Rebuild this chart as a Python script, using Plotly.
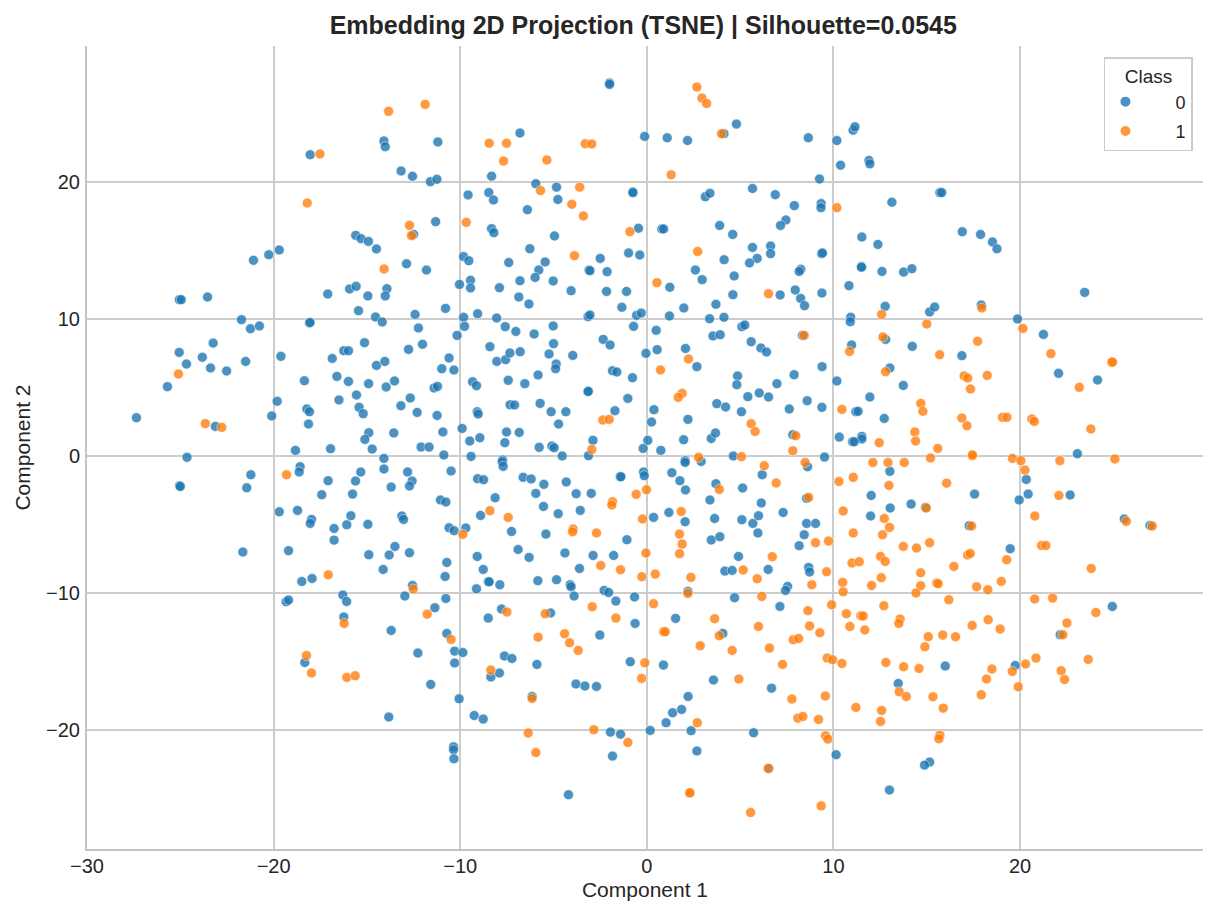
import plotly.graph_objects as go

# Class 0 points (Component 1, Component 2)
class0_points = [
(-2.0,27.2),(-2.0,27.1),(4.8,24.2),(-6.8,23.55),(11.05,23.75),(11.15,24.0),(4.13,23.5),
(-0.12,23.3),(1.09,23.2),(2.18,23.0),(8.65,23.2),(10.18,23.0),
(-14.09,22.97),(-14.02,22.55),(-11.2,22.9),(-18.04,21.97),(-13.17,20.78),(-12.56,20.39),(-11.6,20.0),
(-11.25,20.17),(-9.58,19.03),(-11.32,17.08),(-12.5,16.15),(-15.6,16.08),(-15.31,15.84),(-14.92,15.64),
(-14.49,15.09),(-19.7,15.01),(-20.26,14.67),(-21.08,14.26),(-12.88,14.01),(-11.81,13.55),(-9.82,14.53),(-9.54,14.23),
(-8.32,20.4),
(10.38,21.2),(9.25,20.2),(11.9,21.55),(11.95,21.3),(15.7,19.2),(15.8,19.2),(13.13,18.5),(9.34,18.4),(9.33,18.1),
(16.9,16.35),(17.88,16.15),(18.52,15.6),(18.76,15.1),(11.52,15.96),(12.38,15.42),(9.36,14.74),(9.41,14.8),
(11.5,13.8),(11.5,13.75),(12.6,13.45),(13.76,13.4),(14.2,13.65),
(5.66,19.5),(6.88,19.05),(3.13,18.9),(3.38,19.15),(7.9,18.25),(7.45,17.2),(7.16,16.8),(3.9,16.8),(4.6,16.15),
(5.66,15.2),(6.63,15.3),(6.63,14.75),(5.91,14.4),(5.5,14.07),(4.14,14.3),(2.6,13.55),(8.25,13.6),(8.16,13.45),
(0.8,16.55),(0.9,16.55),(-0.45,16.6),(-0.75,19.25),(-0.75,19.2),(-4.84,19.6),(-4.77,18.7),(-5.95,19.85),
(-6.4,17.95),(-8.47,19.2),(-8.22,18.66),(-8.32,16.57),(-8.2,16.28),(-4.95,16.04),(-6.27,15.1),(-7.4,14.1),
(-5.45,14.14),(-2.5,14.4),(-0.98,14.8),(-0.38,14.65),(-5.79,13.55),(-3.1,13.55),(-3.05,13.5),(-2.13,13.43),
(-10.04,12.5),(-9.45,12.8),(-9.45,12.24),(-25.05,11.39),(-24.95,11.39),(-23.54,11.58),(-17.1,11.8),
(-15.93,12.17),(-15.58,12.36),(-14.95,11.66),(-13.93,12.19),(-14.02,11.66),(-15.45,10.58),(-14.54,10.12),
(-14.18,9.76),(-12.42,10.31),(-10.79,10.75),(-9.82,10.1),(-9.77,9.44),(-9.07,10.36),(-12.24,9.32),
(-10.17,8.78),(-8.41,7.96),(-12.02,8.13),(-12.77,7.76),(-15.13,8.25),(-16.24,7.66),(-15.99,7.66),
(-21.72,9.93),(-21.24,9.27),(-20.76,9.47),(-18.08,9.69),(-18.05,9.72),(-23.24,8.22),(-25.06,7.54),
(-23.82,7.18),(-24.67,6.69),(-23.38,6.4),(-22.52,6.18),(-21.5,6.88),(-25.69,5.04),(-19.61,7.25),
(-16.86,7.1),(-14.49,6.59),(-14.04,6.88),(-10.6,7.13),(-10.99,6.35),(-10.34,6.25),(-9.34,5.4),(-9.13,5.11),
(-16.61,5.79),(-15.99,5.42),(-14.91,5.26),(-13.52,5.45),(-13.97,5.01),(-18.35,5.47),(-11.4,4.94),
(-11.22,5.06),(-15.56,4.43),(-16.5,4.07),(-12.68,4.21),(-13.18,3.65),(-15.42,3.53),(-15.2,3.07),
(-12.31,3.16),(-11.24,2.94),(-19.81,3.97),(-18.22,3.41),(-18.08,3.21),(-20.1,2.9),(-27.35,2.77),
(-23.12,2.14),(-18.13,2.31),(-9.09,3.21),(-9.04,3.04),(-9.9,1.99),(-10.93,1.73),(-13.56,1.66),(-14.9,1.68),
(-15.11,1.19),(-14.72,0.49),(-9.49,1.07),(-8.95,1.31),(-12.1,0.63),(-11.67,0.63),(-16.95,0.51),
(-18.83,0.39),(-24.64,-0.12),(-14.09,-0.2),(-10.88,0.05),(-9.42,-0.05),
(-5.99,13.01),(-6.8,12.77),(-5.02,12.75),(-7.9,12.26),(-6.86,11.58),(-6.32,11.07),(-4.06,12.04),
(-2.16,11.99),(-1.09,11.99),(1.23,12.29),(2.96,12.85),(4.68,13.12),(7.14,11.73),(7.95,12.09),(8.24,11.48),
(8.45,10.95),(9.38,11.87),(10.83,12.41),(4.61,11.75),(3.7,11.05),(1.98,10.78),(-1.34,10.83),(-0.55,10.24),
(-0.3,10.41),(1.21,10.2),(3.36,10.0),(4.13,10.1),(5.09,9.42),(5.25,9.54),(10.92,10.1),(10.9,9.78),
(-8.05,10.05),(-3.15,10.15),(-3.05,10.27),(-7.59,9.42),(-7.02,9.07),(-6.04,8.88),(-5.02,9.47),(-0.71,9.44),
(0.5,9.15),(3.54,8.74),(3.93,8.83),(8.34,8.78),(5.59,8.32),(6.11,7.86),(6.41,7.57),(10.97,8.08),
(-8.04,6.88),(-7.57,7.01),(-7.34,7.5),(-6.79,7.59),(-5.0,8.18),(-5.24,7.42),(-3.97,7.32),(-4.86,6.69),
(-4.89,6.35),(-2.34,8.49),(-1.97,8.08),(-0.05,7.47),(0.55,7.74),(2.07,7.83),(2.68,6.5),(-1.84,6.2),
(-1.61,6.11),(-0.77,5.69),(-7.43,5.5),(-6.54,5.26),(-5.83,5.89),(4.86,5.82),(4.82,5.18),(6.97,5.26),
(7.89,5.91),(9.39,6.5),(10.18,5.45),(-3.16,4.67),(-3.14,4.7),(6.02,4.58),(5.41,4.31),(6.52,4.28),
(-1.02,4.18),(-7.33,3.72),(-7.09,3.7),(-5.72,3.82),(-5.13,3.21),(-4.34,3.21),(-1.71,3.28),(0.38,3.36),
(3.75,3.8),(4.22,3.55),(5.07,3.21),(8.59,4.01),(7.63,3.41),(9.38,3.53),(11.2,3.21),(-4.73,2.31),
(0.25,2.46),(2.2,2.65),(-7.52,1.73),(-6.84,1.7),(-2.89,1.12),(0.05,1.12),(1.97,1.17),(3.45,1.26),
(3.68,1.66),(7.82,1.53),(10.31,1.36),(11.02,1.02),(-7.61,0.95),(-5.77,0.61),(-5.09,0.71),(-4.97,0.58),
(-0.2,0.53),(0.75,0.39),(-4.54,-0.02),(-3.13,0.0),(-7.73,-0.31),(4.63,-0.02),(9.52,-0.1),(2.05,-0.36),
(23.46,11.92),(12.77,10.9),(15.15,10.49),(15.42,10.85),(17.92,11.0),(19.86,9.98),(21.25,8.85),
(22.06,6.01),(24.15,5.52),(16.88,7.3),(12.79,8.49),(14.22,7.98),(13.02,6.4),(13.74,5.13),(11.95,4.28),
(11.32,3.24),(12.72,2.72),(11.52,1.41),(11.52,1.22),(11.11,1.02),(23.07,0.15),
(-21.22,-1.39),(-21.44,-2.34),(-25.04,-2.19),(-25.0,-2.25),(-18.58,-0.8),(-18.63,-1.19),(-17.08,-1.82),
(-17.42,-2.85),(-15.33,-1.19),(-15.61,-1.85),(-15.77,-2.8),(-14.09,-0.97),(-13.7,-2.29),(-12.82,-1.19),
(-12.58,-1.85),(-12.72,-2.21),(-10.49,-1.12),(-9.07,-1.68),(-8.75,-1.75),(-11.06,-3.23),(-10.77,-3.38),
(-19.7,-4.09),(-18.72,-3.99),(-17.97,-4.65),(-18.04,-4.94),(-15.86,-4.38),(-16.08,-5.04),(-16.76,-5.31),
(-16.76,-6.16),(-14.95,-5.01),(-13.13,-4.4),(-13.04,-4.65),(-10.6,-5.26),(-10.33,-5.47),(-9.7,-5.28),
(-8.91,-4.36),(-21.65,-7.03),(-19.2,-6.93),(-14.9,-7.23),(-13.81,-7.25),(-13.5,-6.62),(-12.72,-7.08),
(-14.13,-8.3),(-10.72,-7.79),(-10.81,-8.81),(-9.09,-7.35),(-8.77,-8.3),(-8.5,-9.2),(-9.13,-9.71),
(-18.49,-9.18),(-17.94,-8.96),(-16.29,-10.17),(-16.09,-10.64),(-19.33,-10.66),(-19.2,-10.53),
(-12.56,-9.47),(-12.97,-10.24),(-10.77,-10.42),(-11.36,-11.09),(-8.5,-11.85),(-16.24,-11.77),
(-13.7,-12.75),(-10.72,-12.97),(-12.27,-14.4),(-10.3,-14.26),(-9.86,-14.36),(-10.3,-15.13),
(-18.33,-15.09),(-11.58,-16.69),(-10.06,-17.74),(-9.25,-18.96),(-8.77,-19.22),(-13.83,-19.07),
(-10.36,-21.24),(-10.36,-21.46),(-10.34,-22.12),(-8.36,-16.15),
(-7.75,-0.44),(-7.7,-0.78),(-6.63,-1.58),(-6.2,-1.7),(-5.52,-2.09),(-4.32,-1.92),(-5.95,-2.75),
(-3.79,-2.77),(-2.98,-2.75),(-1.43,-1.53),(-1.39,-1.53),(-0.18,-1.19),(-0.14,-1.46),(-8.13,-3.07),
(-5.54,-3.7),(-4.75,-4.23),(-3.57,-3.99),(-7.25,-5.53),(-5.41,-5.72),(-1.07,-6.13),(0.36,-4.5),
(1.18,-4.14),(2.05,-4.82),(3.38,-3.23),(3.7,-2.04),(5.13,-2.36),(1.34,-1.24),(1.77,-1.82),(2.07,-2.5),
(2.05,-0.49),(2.91,-0.42),(6.18,-1.39),(8.61,-0.8),(8.56,-3.11),(6.13,-3.45),(3.63,-4.58),(5.09,-4.67),
(5.68,-4.94),(5.98,-4.38),(7.3,-4.14),(5.95,-5.64),(3.45,-6.15),(3.91,-5.91),(8.56,-4.94),(9.04,-4.94),
(8.43,-5.77),(8.16,-6.57),(-6.9,-6.84),(-6.31,-7.42),(-4.39,-7.1),(-2.88,-7.28),(-1.78,-7.28),
(-3.61,-8.23),(4.91,-7.35),(4.18,-8.42),(4.57,-8.37),(6.5,-8.3),(8.67,-8.15),(8.72,-8.49),(7.54,-9.54),
(7.43,-9.83),(-8.45,-9.2),(-7.88,-9.42),(-5.84,-9.12),(-4.84,-9.05),(-4.11,-9.42),(-4.06,-9.56),
(-3.9,-10.24),(-2.29,-9.83),(-2.05,-9.98),(-1.66,-10.61),(-0.66,-10.31),(2.2,-9.9),(4.7,-10.36),
(7.13,-11.0),(-7.79,-11.19),(-5.16,-11.48),(-0.63,-12.24),(1.54,-11.87),(4.07,-12.97),(-2.52,-13.09),
(13.02,-1.14),(17.56,-2.8),(12.02,-2.9),(13.04,-3.82),(14.16,-3.53),(14.93,-3.77),(11.99,-4.4),
(17.27,-5.11),(20.33,-1.73),(20.43,-2.8),(19.95,-3.23),(22.68,-2.87),(25.58,-4.62),(26.96,-5.09),
(19.47,-6.79),(24.94,-11.0),(22.15,-13.07),
(-7.63,-14.62),(-7.23,-14.8),(-7.9,-15.86),(-5.89,-15.23),(-0.89,-15.04),(0.89,-15.28),(-3.8,-16.66),
(-3.32,-16.81),(-2.7,-16.84),(-6.15,-17.57),(-1.95,-20.17),(-1.41,-20.32),(-1.84,-21.92),(0.18,-20.05),
(-4.2,-24.74),(1.03,-19.49),(1.38,-18.76),(1.86,-18.52),(2.21,-17.57),(2.37,-20.07),(2.68,-21.55),
(3.57,-16.37),(6.68,-16.96),(5.72,-20.22),(6.54,-22.82),(10.14,-21.82),
(15.99,-15.35),(13.47,-16.62),(15.15,-22.36),(14.88,-22.58),(13.0,-24.4),(19.74,-15.31),
]

# Class 1 points (Component 1, Component 2)
class1_points = [
(2.68,26.9),(2.95,26.1),(3.2,25.7),(-13.84,25.13),(-11.88,25.64),(4.0,23.5),(-8.45,22.8),(-7.52,22.8),
(-3.3,22.77),(-2.95,22.75),(-7.68,21.5),(-5.36,21.58),(1.3,20.5),(-17.52,22.02),(-18.2,18.44),
(-12.72,16.81),(-9.68,17.03),(-12.61,16.06),(-14.08,13.63),(10.18,18.1),(2.72,14.9),(-0.91,16.35),
(-3.6,19.6),(-5.7,19.35),(-4.02,18.35),(-3.4,17.5),(-3.88,14.6),
(-25.1,5.96),(-23.66,2.34),(-22.78,2.07),
(0.54,12.63),(6.52,11.82),(8.43,8.78),(10.86,7.61),(2.23,7.06),(0.73,6.26),(1.89,4.55),(1.68,4.26),
(10.45,3.38),(-2.36,2.6),(-2.02,2.65),(5.59,2.34),(5.8,1.77),(7.98,1.46),(-2.95,0.46),(7.82,0.36),
(5.07,-0.07),(2.77,-0.12),
(12.58,10.31),(15.0,9.61),(17.95,10.78),(20.15,9.29),(21.65,7.45),(24.91,6.81),(24.95,6.84),(23.17,4.99),
(17.72,8.35),(15.69,7.37),(17.0,5.82),(17.19,5.67),(18.24,5.86),(17.34,4.87),(12.65,8.67),(12.79,6.13),
(14.68,3.82),(14.79,3.24),(16.88,2.75),(17.15,2.19),(19.06,2.8),(19.29,2.8),(20.63,2.68),(20.76,2.5),
(23.79,1.95),(12.45,0.95),(14.36,1.73),(14.4,1.07),(15.59,0.53),(17.43,0.0),(17.45,0.05),(15.2,-0.17),
(19.59,-0.2),(20.04,-0.36),(25.08,-0.24),(22.13,-0.36),
(-19.31,-1.39),(-9.86,-5.74),(-8.41,-4.01),(-17.07,-8.69),(-12.52,-9.73),(-11.77,-11.56),(-16.22,-12.24),
(-10.49,-13.41),
(-18.24,-14.58),(-17.97,-15.86),(-16.08,-16.18),(-15.63,-16.06),(-8.36,-15.64),
(-0.02,-2.48),(-0.57,-2.82),(-1.84,-3.36),(-1.88,-3.6),(-7.43,-4.5),(-3.95,-5.35),(-3.98,-5.55),
(-2.7,-5.64),(-0.23,-4.62),(1.84,-4.07),(3.88,-2.46),(6.29,-0.73),(6.93,-1.99),(8.48,-0.49),(8.67,-3.04),
(1.75,-5.72),(1.89,-6.45),(1.75,-7.15),(9.04,-6.35),(9.73,-6.23),(10.29,-1.88),(10.52,-4.04),
(11.06,-5.64),(10.99,-7.83),(11.06,-1.58),(-0.05,-7.1),(-2.47,-8.01),(-1.41,-8.32),(-0.27,-8.83),
(0.45,-8.64),(2.36,-8.88),(6.72,-7.37),(5.16,-8.34),(5.91,-8.98),(9.63,-8.47),(8.84,-9.42),(10.49,-9.25),
(10.52,-9.93),(2.2,-10.05),(6.16,-10.27),(0.36,-10.8),(-2.93,-11.02),(-7.5,-11.41),(-5.45,-11.53),
(-1.66,-11.85),(3.63,-11.9),(0.89,-12.85),(0.98,-12.85),(3.88,-13.14),(5.98,-12.46),(8.63,-11.31),
(8.72,-12.43),(9.27,-12.92),(9.9,-10.88),(10.69,-11.53),(10.88,-12.46),(7.84,-13.43),(8.13,-13.34),
(-5.83,-13.24),(-4.41,-12.99),(-4.14,-13.65),(-3.68,-14.21),(2.86,-13.87),(4.57,-14.21),(6.57,-14.04),
(12.11,-0.49),(12.92,-0.49),(13.79,-0.49),(20.26,-1.05),(12.97,-2.17),(16.06,-2.0),(14.97,-3.82),
(12.72,-4.58),(13.0,-5.23),(12.63,-5.77),(17.4,-5.13),(22.08,-2.9),(20.79,-4.4),(25.69,-4.79),
(27.08,-5.13),(13.74,-6.62),(14.45,-6.74),(15.15,-6.35),(12.52,-7.35),(12.77,-7.72),(11.38,-7.74),
(17.19,-7.25),(17.33,-7.13),(19.28,-7.59),(16.45,-8.08),(21.15,-6.55),(21.38,-6.55),(23.81,-8.23),
(12.56,-8.9),(12.04,-9.47),(14.67,-8.54),(14.67,-9.49),(15.53,-9.29),(15.61,-9.34),(14.42,-10.02),
(17.67,-9.56),(18.27,-9.78),(18.99,-9.17),(16.18,-10.51),(20.78,-10.46),(21.74,-10.39),(12.7,-10.95),
(24.06,-11.44),(11.47,-11.68),(11.59,-11.7),(11.68,-12.72),(13.57,-11.92),(13.5,-12.24),(18.29,-11.97),
(17.43,-12.39),(18.93,-12.65),(22.51,-12.21),(22.29,-13.07),(15.08,-13.21),(15.85,-13.09),
(16.54,-13.21),(14.9,-13.94),
(-0.11,-15.11),(-0.28,-16.25),(-6.15,-17.72),(-6.36,-20.24),(-5.95,-21.66),(-2.84,-20.0),(-1.02,-20.93),
(2.7,-19.49),(2.29,-24.62),(2.31,-24.6),(4.93,-16.3),(7.27,-15.23),(6.5,-22.82),(5.56,-26.04),
(7.77,-17.76),(8.09,-19.15),(8.36,-19.03),(9.2,-19.25),(9.56,-17.54),(9.66,-14.77),(9.95,-14.89),
(10.45,-15.16),(9.58,-20.44),(9.7,-20.68),(9.34,-25.55),(11.2,-18.37),
(12.81,-15.09),(13.76,-15.4),(14.58,-15.53),(13.52,-17.23),(13.9,-17.57),(15.33,-17.59),(15.88,-18.42),
(12.58,-18.59),(12.52,-19.39),(15.7,-20.39),(15.65,-20.66),(17.92,-17.45),(18.2,-16.3),(18.49,-15.57),
(19.58,-15.74),(20.29,-15.2),(20.85,-14.77),(19.9,-16.86),(22.2,-15.69),(22.38,-16.33),(23.65,-14.87),
]

class_labels = ["0", "1"]
class_colors = ["#1f77b4", "#ff7f0e"]
x_ticks = [-30, -20, -10, 0, 10, 20]
y_ticks = [-20, -10, 0, 10, 20]


def tick_text(v):
    return ("\u2212" + str(-v)) if v < 0 else str(v)


FONT = "Liberation Sans, Arial, sans-serif"
TXT = "#262626"

fig = go.Figure()
for pts, lab, col in zip([class0_points, class1_points], class_labels, class_colors):
    fig.add_trace(go.Scatter(
        x=[p[0] for p in pts], y=[p[1] for p in pts],
        mode="markers", name="\u00a0" * 6 + lab, legendgroup=lab,
        marker=dict(size=10, color=col, opacity=0.8,
                    line=dict(width=0.6, color="white")),
    ))

fig.update_layout(
    width=1217, height=917, autosize=False,
    margin=dict(l=79, r=22, t=38, b=76),
    paper_bgcolor="white", plot_bgcolor="white",
    font=dict(family=FONT, color=TXT, size=18),
    title=dict(text="<b>Embedding 2D Projection (TSNE) | Silhouette=0.0545</b>",
               x=0.522, xanchor="center", y=1 - 17 / 917, yanchor="middle",
               yref="container", font=dict(size=25, color=TXT, family=FONT)),
    legend=dict(title=dict(text="Class", side="top center", font=dict(size=19)),
                x=0.991, xanchor="right", y=0.986, yanchor="top",
                bgcolor="rgba(255,255,255,0.8)", bordercolor="#cccccc", borderwidth=1.5,
                font=dict(size=18), tracegroupgap=3, itemsizing="constant"),
    xaxis=dict(range=[-30, 29.8], tickvals=x_ticks, ticktext=[tick_text(v) for v in x_ticks],
               showgrid=True, gridcolor="#cccccc",
               gridwidth=1.5, zeroline=False, showline=True, linecolor="#c4c4c4", linewidth=2,
               ticks="", ticklabelstandoff=-2,
               title=dict(text="Component 1", standoff=6, font=dict(size=21)),
               tickfont=dict(size=20)),
    yaxis=dict(range=[-28.7, 29.9], tickvals=y_ticks, ticktext=[tick_text(v) for v in y_ticks],
               showgrid=True, gridcolor="#cccccc",
               gridwidth=1.5, zeroline=False, showline=True, linecolor="#c4c4c4", linewidth=2,
               ticks="", ticklabelstandoff=1,
               title=dict(text="Component 2", standoff=10, font=dict(size=21)),
               tickfont=dict(size=20)),
)

fig.write_html("out.html")
